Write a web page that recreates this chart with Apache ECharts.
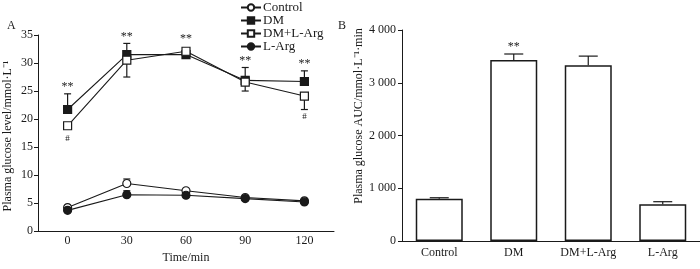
<!DOCTYPE html>
<html>
<head>
<meta charset="utf-8">
<script src="https://cdn.jsdelivr.net/npm/echarts@6/dist/echarts.min.js"></script>
<style>
  html, body { margin: 0; padding: 0; background: #fff; }
  #main { width: 700px; height: 269px; }
</style>
</head>
<body>
<div id="main"></div>
<script>
var myChart = echarts.init(document.getElementById("main"));

// A: 血糖曲线
const timeCats = ["0", "30", "60", "90", "120"];
const controlMean = [4.2, 8.5, 7.2, 6.0, 5.4];
const controlUp = [0, 0.8, 0, 0, 0];
const dmMean = [21.7, 31.5, 31.5, 26.9, 26.7];
const dmUp = [2.8, 2.0, 0, 2.3, 1.9];
const dmArgMean = [18.8, 30.5, 32.1, 26.6, 24.1];
const dmArgDown = [0, 3.0, 0, 1.6, 2.4];
const argMean = [3.7, 6.5, 6.4, 5.8, 5.2];
const argUp = [0, 0.7, 0, 0, 0];
const starMarks = ["**", "**", "**", "**", "**"];
const hashMarks = ["#", "", "", "", "#"];
const yTicksA = [0, 35, 5];

// B: AUC
const groupCats = ["Control", "DM", "DM+L-Arg", "L-Arg"];
const aucMean = [800, 3430, 3330, 695];
const aucUp = [20, 115, 175, 50];
const aucStars = ["", "**", "", ""];
const yTicksB = [0, 4000, 1000];

const FONT = "Liberation Serif";
const FS = 12;
const INK = "#1a1a1a";

function errBars(means, up, down, capW) {
  return function (params, api) {
    const i = api.value(0);
    const m = means[i];
    const u = up ? up[i] : 0;
    const d = down ? down[i] : 0;
    const p0 = api.coord([i, m]);
    const pt = api.coord([i, m + u]);
    const pb = api.coord([i, m - d]);
    const style = { stroke: INK, lineWidth: 1.2 };
    const kids = [];
    if (u > 0) {
      kids.push({ type: "line", shape: { x1: p0[0], y1: p0[1], x2: pt[0], y2: pt[1] }, style: style });
      kids.push({ type: "line", shape: { x1: pt[0] - capW / 2, y1: pt[1], x2: pt[0] + capW / 2, y2: pt[1] }, style: style });
    }
    if (d > 0) {
      kids.push({ type: "line", shape: { x1: p0[0], y1: p0[1], x2: pb[0], y2: pb[1] }, style: style });
      kids.push({ type: "line", shape: { x1: pb[0] - capW / 2, y1: pb[1], x2: pb[0] + capW / 2, y2: pb[1] }, style: style });
    }
    return { type: "group", children: kids };
  };
}

function idx(arr) {
  return arr.map((v, i) => [i, v]);
}

function lineSeries(name, data, symbol, fill) {
  return {
    name: name,
    type: "line",
    xAxisIndex: 0,
    yAxisIndex: 0,
    data: data,
    symbol: symbol,
    symbolSize: 8,
    lineStyle: { color: INK, width: 1.1 },
    itemStyle: { color: fill, borderColor: INK, borderWidth: 1.2 },
    z: 3,
  };
}

function errSeries(means, up, down, capW, xi, yi) {
  return {
    type: "custom",
    xAxisIndex: xi,
    yAxisIndex: yi,
    data: idx(means),
    renderItem: errBars(means, up, down, capW),
    z: xi === 0 ? 1 : 4,
    silent: true,
  };
}

option = {
  animation: false,
  textStyle: { fontFamily: FONT },
  legend: {
    orient: "vertical",
    left: 235,
    top: -4,
    itemWidth: 20,
    itemHeight: 8,
    itemGap: 0,
    textStyle: { fontFamily: FONT, fontSize: FS + 1, color: INK, lineHeight: 13, padding: [0, 0, 0, -3] },
    data: ["Control", "DM", "DM+L-Arg", "L-Arg"],
  },
  grid: [
    { left: 38, top: 35, width: 296, bottom: 27 },
    { left: 402, top: 30, right: 0, bottom: 28 },
  ],
  xAxis: [
    {
      gridIndex: 0,
      type: "category",
      data: timeCats,
      boundaryGap: true,
      axisLine: { lineStyle: { color: INK, width: 1 } },
      axisTick: { show: false },
      axisLabel: { color: INK, fontSize: FS, fontFamily: FONT, margin: 4, interval: 0 },
      name: "Time/min",
      nameLocation: "middle",
      nameGap: 17,
      nameTextStyle: { color: INK, fontSize: FS, fontFamily: FONT },
    },
    {
      gridIndex: 1,
      type: "category",
      data: groupCats,
      axisLine: { lineStyle: { color: INK, width: 1 } },
      axisTick: { show: false },
      axisLabel: { color: INK, fontSize: FS, fontFamily: FONT, margin: 6, interval: 0 },
    },
  ],
  yAxis: [
    {
      gridIndex: 0,
      type: "value",
      min: yTicksA[0],
      max: yTicksA[1],
      interval: yTicksA[2],
      splitLine: { show: false },
      axisLine: { show: true, lineStyle: { color: INK, width: 1 } },
      axisTick: { show: true, length: 4, lineStyle: { color: INK } },
      axisLabel: { color: INK, fontSize: FS, fontFamily: FONT, margin: 5 },
    },
    {
      gridIndex: 1,
      type: "value",
      min: yTicksB[0],
      max: yTicksB[1],
      interval: yTicksB[2],
      splitLine: { show: false },
      axisLine: { show: true, lineStyle: { color: INK, width: 1 } },
      axisTick: { show: true, length: 4, lineStyle: { color: INK } },
      axisLabel: {
        color: INK,
        fontSize: FS,
        fontFamily: FONT,
        margin: 6,
        formatter: (v) => String(v).replace(/\B(?=(\d{3})+(?!\d))/g, " "),
      },
    },
  ],
  graphic: [
    { type: "text", left: 7, top: 20, style: { text: "A", font: FS + "px " + FONT, fill: INK } },
    { type: "text", left: 338, top: 20, style: { text: "B", font: FS + "px " + FONT, fill: INK } },
    {
      type: "text",
      x: 8,
      y: 136,
      rotation: Math.PI / 2,
      style: { text: "Plasma glucose level/mmol·L⁻¹", font: FS + "px " + FONT, fill: INK, align: "center", verticalAlign: "middle" },
    },
    {
      type: "text",
      x: 359,
      y: 116,
      rotation: Math.PI / 2,
      style: { text: "Plasma glucose AUC/mmol·L⁻¹·min", font: FS + "px " + FONT, fill: INK, align: "center", verticalAlign: "middle" },
    },
  ],
  series: [
    errSeries(controlMean, controlUp, null, 7, 0, 0),
    errSeries(dmMean, dmUp, null, 7, 0, 0),
    errSeries(dmArgMean, null, dmArgDown, 7, 0, 0),
    errSeries(argMean, argUp, null, 7, 0, 0),
    lineSeries("Control", controlMean, "circle", "#fff"),
    lineSeries("DM", dmMean, "rect", INK),
    lineSeries("DM+L-Arg", dmArgMean, "rect", "#fff"),
    lineSeries("L-Arg", argMean, "circle", INK),
    {
      // 显著性标记
      type: "custom",
      xAxisIndex: 0,
      yAxisIndex: 0,
      data: idx(dmMean),
      z: 5,
      silent: true,
      renderItem: function (params, api) {
        const i = api.value(0);
        const x = api.coord([i, 0])[0];
        const top = Math.min(
          api.coord([i, dmMean[i] + dmUp[i]])[1],
          api.coord([i, dmMean[i]])[1] - 5,
          api.coord([i, dmArgMean[i]])[1] - 5
        );
        const bottom = Math.max(
          api.coord([i, dmArgMean[i] - dmArgDown[i]])[1],
          api.coord([i, dmArgMean[i]])[1] + 5,
          api.coord([i, dmMean[i]])[1] + 5
        );
        return {
          type: "group",
          children: [
            { type: "text", x: x, y: top - 1, style: { text: starMarks[i], font: FS + "px " + FONT, fill: INK, align: "center", verticalAlign: "bottom" } },
            { type: "text", x: x, y: bottom + 3, style: { text: hashMarks[i], font: "9px " + FONT, fill: INK, align: "center", verticalAlign: "top" } },
          ],
        };
      },
    },
    {
      type: "bar",
      xAxisIndex: 1,
      yAxisIndex: 1,
      data: aucMean,
      barWidth: 47,
      itemStyle: { color: "#fff", borderColor: INK, borderWidth: 1.5 },
      z: 2,
    },
    errSeries(aucMean, aucUp, null, 19, 1, 1),
    {
      type: "custom",
      xAxisIndex: 1,
      yAxisIndex: 1,
      data: idx(aucMean),
      z: 5,
      silent: true,
      renderItem: function (params, api) {
        const i = api.value(0);
        const p = api.coord([i, aucMean[i] + aucUp[i]]);
        return { type: "text", x: p[0], y: p[1] - 1, style: { text: aucStars[i], font: FS + "px " + FONT, fill: INK, align: "center", verticalAlign: "bottom" } };
      },
    },
  ],
};
myChart.setOption(option);
</script>
</body>
</html>
